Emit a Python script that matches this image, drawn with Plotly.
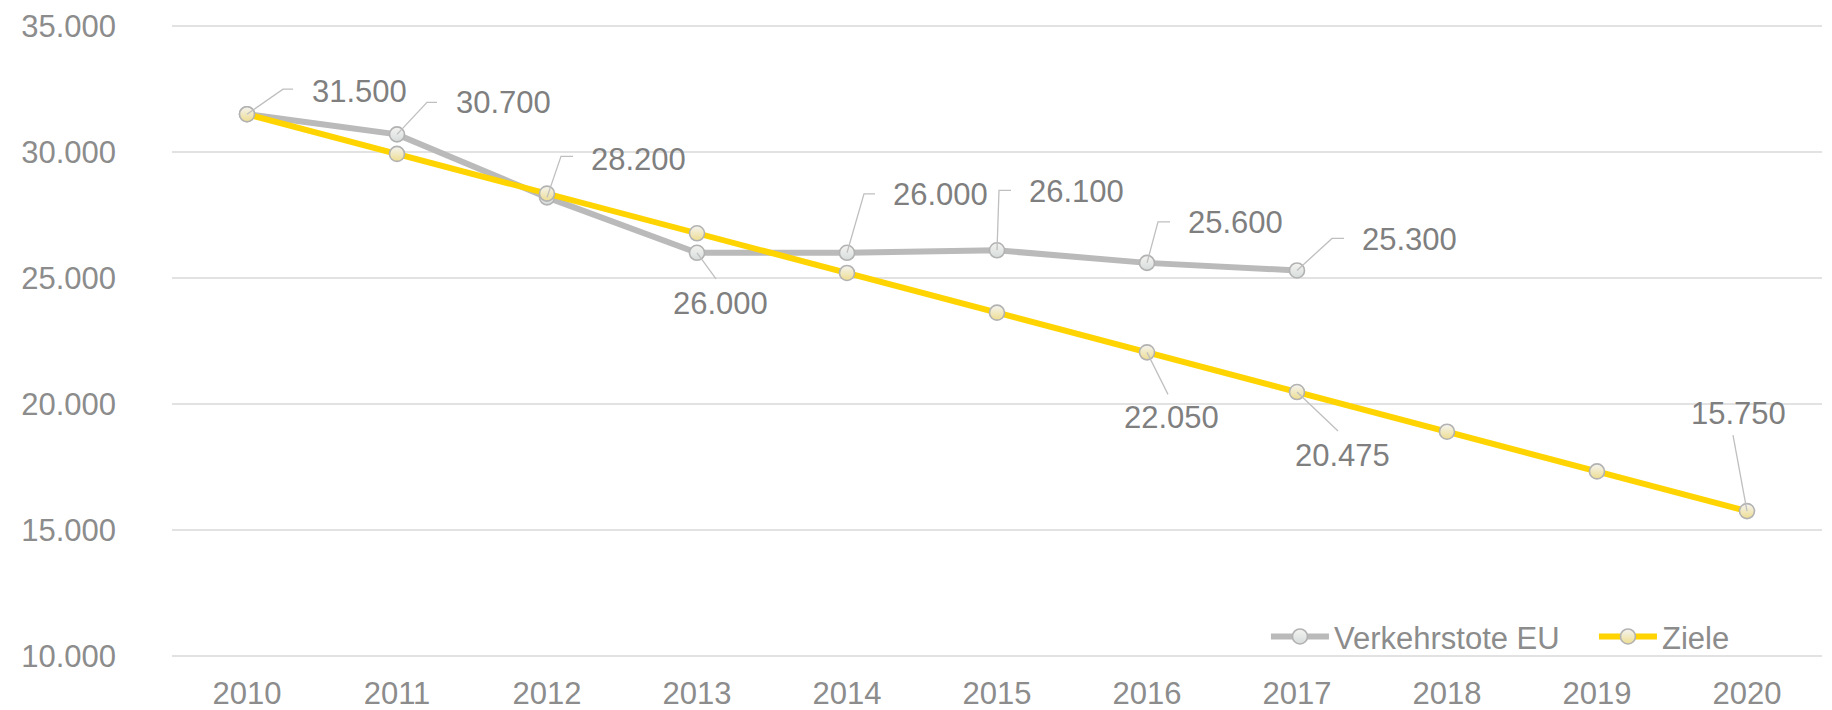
import plotly.graph_objects as go

years = ["2010", "2011", "2012", "2013", "2014", "2015", "2016", "2017", "2018", "2019", "2020"]
verkehrstote = [31500, 30700, 28200, 26000, 26000, 26100, 25600, 25300]
ziele = [31500, 29925, 28350, 26775, 25200, 23625, 22050, 20475, 18900, 17325, 15750]
ziele_labeled = ["2016", "2017", "2020"]
y_ticks = [10000, 15000, 20000, 25000, 30000, 35000]

# label placement (pixel offsets: leader elbow, leader end, label centre) -- styling only
verk_label_pos = [
    ((36, 25), (46, 25), (112, 23)),
    ((30, 32), (40, 32), (106, 32)),
    ((14, 41), (26, 41), (91, 38)),
    (None, (19, -26), (23, -51)),
    ((17, 59), (28, 59), (93, 58)),
    ((2, 60), (14, 60), (79, 59)),
    ((11, 41), (23, 41), (88, 40)),
    ((35, 32), (47, 32), (112, 31)),
]
ziele_label_pos = {
    "2016": (None, (21, -42), (24, -65)),
    "2017": (None, (41, -39), (45, -63)),
    "2020": (None, (-14, 76), (-9, 98)),
}

FONT = "Liberation Sans, Arial, sans-serif"
GRAY_LINE = "#BABABA"
YELLOW = "#FFD400"
LABEL_COL = "#7F7F7F"
TICK_COL = "#8C8C8C"
LEADER_COL = "#BFBFBF"

xi = list(range(len(years)))


def de(v):
    return f"{v:,.0f}".replace(",", ".")


marker_style = dict(size=15, color="#F4F4F2", line=dict(color="#B2B2B2", width=1.6))

fig = go.Figure()
fig.add_trace(go.Scatter(
    x=xi[:len(verkehrstote)], y=verkehrstote, name="Verkehrstote EU",
    mode="lines+markers", line=dict(color=GRAY_LINE, width=6),
    marker=dict(**marker_style, gradient=dict(type="vertical", color="#D6DCDA")),
))
fig.add_trace(go.Scatter(
    x=xi, y=ziele, name="Ziele", legendwidth=70,
    mode="lines+markers", line=dict(color=YELLOW, width=6),
    marker=dict(**marker_style, gradient=dict(type="vertical", color="#EEDD90")),
))

shapes = []
annotations = []


def add_label(xv, yv, pos):
    elbow, end, lab = pos
    if elbow is None:
        path = f"M0,0 L{end[0]},{end[1]}"
    else:
        path = f"M0,0 L{elbow[0]},{elbow[1]} L{end[0]},{end[1]}"
    shapes.append(dict(type="path", xref="x", yref="y", xsizemode="pixel", ysizemode="pixel",
                       xanchor=xv, yanchor=yv, path=path,
                       line=dict(color=LEADER_COL, width=1.3), layer="above"))
    annotations.append(dict(x=xv, y=yv, xref="x", yref="y", text=de(yv), showarrow=False,
                            xshift=lab[0], yshift=lab[1], xanchor="center", yanchor="middle",
                            font=dict(family=FONT, size=31, color=LABEL_COL)))


for i, v in enumerate(verkehrstote):
    add_label(xi[i], v, verk_label_pos[i])
for yr in ziele_labeled:
    k = years.index(yr)
    add_label(xi[k], ziele[k], ziele_label_pos[yr])

# page body has an 8px default margin, so the figure is 8px smaller in each direction
fig.update_layout(
    width=1824, height=702,
    margin=dict(l=164, r=10, t=17, b=53),
    paper_bgcolor="white", plot_bgcolor="white",
    separators=",.",
    font=dict(family=FONT, size=31, color=TICK_COL),
    shapes=shapes, annotations=annotations,
    showlegend=True,
    legend=dict(orientation="h", x=0.663, xanchor="left", y=0.032, yanchor="middle",
                bgcolor="rgba(0,0,0,0)", font=dict(family=FONT, size=31, color=TICK_COL),
                itemwidth=58, entrywidth=255, tracegroupgap=0),
    xaxis=dict(range=[-0.5, len(years) - 0.5], tickvals=xi, ticktext=years,
               showgrid=False, zeroline=False, automargin=False,
               showline=False, ticks="", ticklabelstandoff=15,
               tickfont=dict(family=FONT, size=31, color=TICK_COL)),
    yaxis=dict(range=[9960, 35040], tickvals=y_ticks, tickformat=",.0f", automargin=False,
               showgrid=True, gridcolor="#E2E2E2", gridwidth=1.5, zeroline=False,
               showline=False, ticks="", ticklabelstandoff=55,
               tickfont=dict(family=FONT, size=31, color=TICK_COL)),
)

fig.write_html("out.html")
